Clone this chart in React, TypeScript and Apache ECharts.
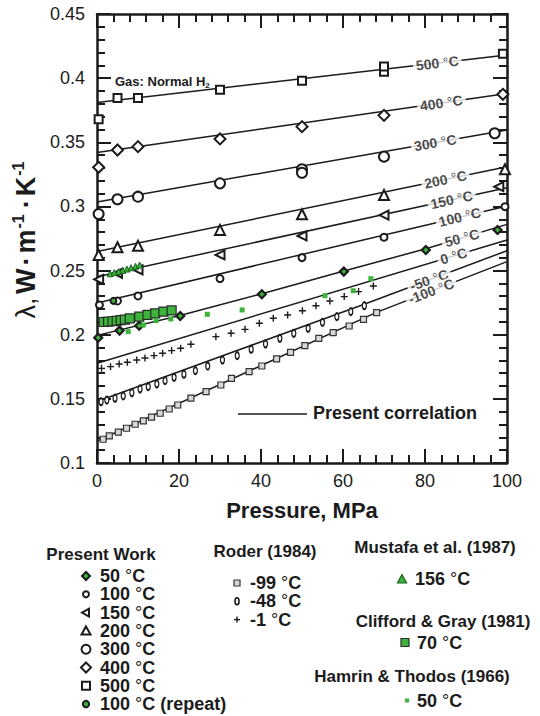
import React, { useEffect, useRef } from "react";
import * as echarts from "echarts";

const INK = "#1b1b1b";
const GREEN = "#3cb43c";
const FONT = "'Liberation Sans', Arial, Helvetica, sans-serif";

// ---------- Present work measurements (P in MPa, lambda in W/m/K)
const P_500C = [0.4, 5, 10, 30, 50, 70, 70, 99];
const L_500C = [0.368, 0.3845, 0.3845, 0.391, 0.398, 0.405, 0.409, 0.419];
const P_400C = [0.4, 5, 10, 30, 50, 70, 99];
const L_400C = [0.3305, 0.344, 0.3466, 0.3526, 0.3622, 0.371, 0.3874];
const P_300C = [0.4, 5, 10, 30, 50, 50, 70, 97];
const L_300C = [0.2941, 0.3056, 0.3076, 0.318, 0.329, 0.3263, 0.3388, 0.357];
const P_200C = [0.4, 5, 10, 30, 50, 70, 99.5];
const L_200C = [0.2622, 0.2682, 0.2694, 0.2817, 0.2939, 0.3089, 0.329];
const P_150C = [0.4, 5, 10, 30, 50, 70, 98];
const L_150C = [0.2432, 0.2479, 0.2505, 0.2622, 0.277, 0.2933, 0.3154];
const P_100C = [0.6, 5, 10, 30, 50, 70, 99.5];
const L_100C = [0.2232, 0.2263, 0.2302, 0.2438, 0.2601, 0.276, 0.2998];
const P_50C = [0.3, 5.5, 10.3, 20.3, 40.2, 60.2, 80.2, 97.7];
const L_50C = [0.1977, 0.2032, 0.207, 0.2146, 0.2315, 0.2492, 0.266, 0.2816];
const P_100R = [4.0];
const L_100R = [0.2264];

// ---------- Roder (1984)
const P_M99 = [1.5, 3.0, 5.2, 7.2, 9.3, 11.3, 13.3, 15.4, 17.6, 19.7, 22.9, 26.6, 30.2, 32.8, 37.1, 40.2, 43.8, 47.2, 50.7, 54.1, 57.6, 61.5, 65.0, 68.2];
const L_M99 = [0.1185, 0.1211, 0.124, 0.1271, 0.1302, 0.1328, 0.1357, 0.1388, 0.1421, 0.1452, 0.1505, 0.1556, 0.1608, 0.166, 0.1712, 0.1756, 0.1811, 0.1863, 0.1915, 0.1972, 0.2016, 0.2068, 0.212, 0.2172];
const P_M48 = [1.0, 2.4, 4.4, 6.4, 8.5, 10.5, 12.5, 14.6, 16.6, 18.8, 21.2, 24.0, 27.0, 30.6, 34.2, 37.6, 41.1, 44.6, 48.0, 51.5, 55.0, 58.5, 61.9, 65.2];
const L_M48 = [0.1478, 0.1491, 0.1505, 0.1523, 0.1548, 0.1577, 0.1595, 0.1616, 0.1642, 0.1668, 0.1692, 0.172, 0.1756, 0.1803, 0.1837, 0.1887, 0.1928, 0.1972, 0.2011, 0.205, 0.2097, 0.2141, 0.218, 0.2226];
const P_M1 = [1.1, 3.3, 5.4, 7.4, 9.7, 11.7, 13.9, 16.0, 18.2, 20.4, 22.9, 29.0, 32.7, 36.1, 39.6, 43.0, 46.5, 50.1, 53.4, 56.8, 60.3, 63.8, 67.4];
const L_M1 = [0.1738, 0.1751, 0.1772, 0.1785, 0.1803, 0.1819, 0.1837, 0.1855, 0.1876, 0.1894, 0.1926, 0.1985, 0.2011, 0.2042, 0.2089, 0.2128, 0.2154, 0.2187, 0.2226, 0.2263, 0.2297, 0.2336, 0.238];

// ---------- Other sources
const P_MUSTAFA = [3.2, 4.2, 5.3, 6.3, 7.3, 8.3, 9.4, 10.4];
const L_MUSTAFA = [0.2475, 0.2484, 0.2492, 0.2502, 0.2512, 0.2522, 0.2533, 0.2543];
const P_CLIFFORD = [1.6, 2.7, 3.8, 4.8, 5.8, 6.8, 8.0, 10.3, 12.3, 14.2, 16.2, 18.2];
const L_CLIFFORD = [0.2099, 0.2102, 0.2105, 0.2108, 0.2113, 0.2118, 0.2128, 0.2141, 0.2154, 0.2167, 0.218, 0.2189];
const P_HAMRIN = [7.6, 11.3, 14.4, 18.0, 26.9, 35.4, 55.6, 62.5, 66.8];
const L_HAMRIN = [0.2024, 0.2076, 0.211, 0.2123, 0.2159, 0.2193, 0.2304, 0.2343, 0.2437];

// ---------- Present correlation (isotherms)
const ISO_NAMES = ["500", "400", "300", "200", "150", "100", "50", "0", "-50", "-100"];
const CORR_P = [
  [0, 100], [0, 100], [0, 100], [0, 100], [0, 100], [0, 100],
  [0, 20, 40, 60, 80, 100], [0, 100], [0, 65, 100], [0, 68, 100],
];
const CORR_L = [
  [0.381, 0.418], [0.342, 0.388], [0.3035, 0.3595], [0.2648, 0.331], [0.2452, 0.3146],
  [0.2247, 0.3004], [0.1995, 0.2148, 0.2318, 0.2495, 0.2668, 0.286], [0.1777, 0.2739],
  [0.148, 0.2235, 0.2655], [0.117, 0.2172, 0.257],
];
const LABEL_P = [83, 84, 82.5, 85, 86.5, 88.5, 89, 87, 81, 81.5];
const LABEL_ROT = [6.6, 8.2, 9.9, 11.7, 12.2, 13.3, 15, 16.7, 19.5, 21];

const interp = (ps: number[], ls: number[], p: number) => {
  for (let i = 0; i < ps.length - 1; i++) {
    if (p >= ps[i] && p <= ps[i + 1]) {
      const t = (p - ps[i]) / (ps[i + 1] - ps[i]);
      return ls[i] + t * (ls[i + 1] - ls[i]);
    }
  }
  return ls[ls.length - 1];
};

const pts = (ps: number[], ls: number[]) => ps.map((p, i) => [p, ls[i]]);

const PLUS = "path://M2,0h1v2h2v1h-2v2h-1v-2h-2v-1h2z";

function scatter(name: string, ps: number[], ls: number[], symbol: string, size: any, fill: string, stroke: string, bw: number, rotate = 0, z = 4) {
  return {
    name,
    type: "scatter",
    data: pts(ps, ls),
    symbol,
    symbolSize: size,
    symbolRotate: rotate,
    z,
    itemStyle: { color: fill, borderColor: stroke, borderWidth: bw, opacity: 1 },
    emphasis: { disabled: true },
  };
}

const degRich = (size: number, colorKey: "color" | "fill", lh?: number) => ({
  b: { fontSize: size, fontWeight: "bold", fontFamily: FONT, [colorKey]: INK, ...(lh ? { lineHeight: lh } : {}) },
  d: { fontSize: size, fontWeight: "normal", fontFamily: FONT, [colorKey]: INK, ...(lh ? { lineHeight: lh } : {}) },
});

const degText = (t: string, extra = "") => `{b|${t} }{d|°}{b|C${extra}}`;

function buildOption() {
  const series: any[] = [];

  ISO_NAMES.forEach((n, i) => {
    series.push({
      name: `corr${n}`,
      type: "line",
      data: pts(CORR_P[i], CORR_L[i]),
      showSymbol: false,
      symbol: "none",
      lineStyle: { color: INK, width: 1.5 },
      z: 2,
      emphasis: { disabled: true },
    });
  });

  series.push(
    scatter("500", P_500C, L_500C, "rect", 8, "#fff", INK, 2),
    scatter("400", P_400C, L_400C, "diamond", 11, "#fff", INK, 2),
    scatter("300", P_300C, L_300C, "circle", 10, "#fff", INK, 2),
    scatter("200", P_200C, L_200C, "triangle", 10, "#fff", INK, 2),
    scatter("150", P_150C, L_150C, "triangle", 9, "#fff", INK, 2, 90),
    scatter("100", P_100C, L_100C, "circle", 7, "#fff", INK, 2),
    scatter("50", P_50C, L_50C, "diamond", 8, GREEN, INK, 2.2),
    scatter("100r", P_100R, L_100R, "circle", 6, GREEN, INK, 2),
    scatter("m99", P_M99, L_M99, "rect", 6, "#d8d8d8", "#333", 1.2),
    scatter("m48", P_M48, L_M48, "circle", [4, 7], "#fff", INK, 1.6),
    scatter("m1", P_M1, L_M1, PLUS, 7, INK, INK, 0),
    scatter("mustafa", P_MUSTAFA, L_MUSTAFA, "triangle", 6, GREEN, "#1d5e1d", 1, 0, 5),
    scatter("clifford", P_CLIFFORD, L_CLIFFORD, "rect", 9, GREEN, "#2a2a2a", 1.2, 0, 5),
    scatter("hamrin", P_HAMRIN, L_HAMRIN, "rect", 5, GREEN, GREEN, 0, 0, 5),
  );

  ISO_NAMES.forEach((n, i) => {
    const p = LABEL_P[i];
    series.push({
      name: `lab${n}`,
      type: "scatter",
      data: [[p, interp(CORR_P[i], CORR_L[i], p)]],
      symbolSize: 1,
      itemStyle: { color: "rgba(0,0,0,0)" },
      z: 8,
      silent: true,
      label: {
        show: true,
        position: "inside",
        formatter: degText(n),
        rotate: LABEL_ROT[i],
        backgroundColor: "#fff",
        padding: [0, 3],
        rich: degRich(14, "color", 13),
      },
    });
  });

  const tickStyle = { color: INK, width: 2 };
  const axisCommon = {
    axisLine: { show: true, onZero: false, lineStyle: { color: INK, width: 2.5 } },
    axisTick: { show: true, inside: true, length: 14, lineStyle: tickStyle },
    minorTick: { show: true, splitNumber: 5, length: 8, lineStyle: tickStyle },
    splitLine: { show: false },
    minorSplitLine: { show: false },
  };

  const legendGraphics: any[] = [];
  const txt = (x: number, y: number, text: string, size: number, align = "left") => ({
    type: "text",
    x,
    y,
    silent: true,
    style: { text, rich: degRich(size, "fill"), align, verticalAlign: "middle" },
  });
  const heading = (x: number, y: number, text: string) => ({
    type: "text",
    x,
    y,
    silent: true,
    style: { text, fill: INK, font: `bold 17px ${FONT}`, align: "center", verticalAlign: "middle" },
  });
  const stroke = { stroke: INK, lineWidth: 2 };

  // Column 1: Present Work
  const c1x = 86, tx1 = 100;
  const r1 = [576, 594.3, 612.6, 630.9, 649.2, 667.5, 685.8, 704.1];
  legendGraphics.push(heading(101, 554, "Present Work"));
  legendGraphics.push({ type: "polygon", shape: { points: [[c1x, r1[0] - 4], [c1x + 4, r1[0]], [c1x, r1[0] + 4], [c1x - 4, r1[0]]] }, style: { fill: GREEN, ...stroke } });
  legendGraphics.push({ type: "circle", shape: { cx: c1x, cy: r1[1], r: 3 }, style: { fill: "#fff", ...stroke } });
  legendGraphics.push({ type: "polygon", shape: { points: [[c1x - 4, r1[2]], [c1x + 3, r1[2] - 4], [c1x + 3, r1[2] + 4]] }, style: { fill: "#fff", ...stroke } });
  legendGraphics.push({ type: "polygon", shape: { points: [[c1x, r1[3] - 4.5], [c1x + 4.5, r1[3] + 3.5], [c1x - 4.5, r1[3] + 3.5]] }, style: { fill: "#fff", ...stroke } });
  legendGraphics.push({ type: "circle", shape: { cx: c1x, cy: r1[4], r: 4.5 }, style: { fill: "#fff", ...stroke } });
  legendGraphics.push({ type: "polygon", shape: { points: [[c1x, r1[5] - 5], [c1x + 5, r1[5]], [c1x, r1[5] + 5], [c1x - 5, r1[5]]] }, style: { fill: "#fff", ...stroke } });
  legendGraphics.push({ type: "rect", shape: { x: c1x - 4, y: r1[6] - 4, width: 8, height: 8 }, style: { fill: "#fff", ...stroke } });
  legendGraphics.push({ type: "circle", shape: { cx: c1x, cy: r1[7], r: 3.2 }, style: { fill: GREEN, ...stroke } });
  ["50", "100", "150", "200", "300", "400", "500"].forEach((t, i) => legendGraphics.push(txt(tx1, r1[i], degText(t), 18)));
  legendGraphics.push(txt(tx1, r1[7], degText("100", " (repeat)"), 18));

  // Column 2: Roder
  const c2x = 237, tx2 = 250;
  const r2 = [583, 601.3, 619.6];
  legendGraphics.push(heading(265, 551, "Roder (1984)"));
  legendGraphics.push({ type: "rect", shape: { x: c2x - 3, y: r2[0] - 3, width: 6, height: 6 }, style: { fill: "#d8d8d8", stroke: "#333", lineWidth: 1.2 } });
  legendGraphics.push({ type: "ellipse", shape: { cx: c2x, cy: r2[1], rx: 2, ry: 3.5 }, style: { fill: "#fff", stroke: INK, lineWidth: 1.6 } });
  legendGraphics.push({ type: "line", shape: { x1: c2x - 3, y1: r2[2], x2: c2x + 3, y2: r2[2] }, style: { stroke: INK, lineWidth: 1.4 } });
  legendGraphics.push({ type: "line", shape: { x1: c2x, y1: r2[2] - 3, x2: c2x, y2: r2[2] + 3 }, style: { stroke: INK, lineWidth: 1.4 } });
  ["-99", "-48", "-1"].forEach((t, i) => legendGraphics.push(txt(tx2, r2[i], degText(t), 18)));

  // Column 3
  legendGraphics.push(heading(435, 547, "Mustafa et al. (1987)"));
  legendGraphics.push({ type: "polygon", shape: { points: [[402, 574.5], [406.5, 583], [397.5, 583]] }, style: { fill: GREEN, stroke: "#1d5e1d", lineWidth: 1.2 } });
  legendGraphics.push(txt(415, 579, degText("156"), 18));
  legendGraphics.push(heading(443, 621, "Clifford & Gray (1981)"));
  legendGraphics.push({ type: "rect", shape: { x: 401, y: 638.5, width: 8, height: 8 }, style: { fill: GREEN, stroke: "#2a2a2a", lineWidth: 1.2 } });
  legendGraphics.push(txt(417, 642.7, degText("70"), 18));
  legendGraphics.push(heading(412, 676, "Hamrin & Thodos (1966)"));
  legendGraphics.push({ type: "rect", shape: { x: 405, y: 698.5, width: 4, height: 4 }, style: { fill: GREEN } });
  legendGraphics.push(txt(417, 700.7, degText("50"), 18));

  // In-plot annotations
  legendGraphics.push({
    type: "text",
    x: 115,
    y: 81,
    silent: true,
    z: 10,
    style: {
      text: "{a|Gas: Normal H}{s|2}",
      verticalAlign: "middle",
      rich: {
        a: { fontSize: 13, fontWeight: "bold", fontFamily: FONT, fill: INK },
        s: { fontSize: 8, fontWeight: "bold", fontFamily: FONT, fill: INK, padding: [9, 0, 0, 0] },
      },
    },
  });
  legendGraphics.push({ type: "line", z: 10, shape: { x1: 238, y1: 414, x2: 307, y2: 414 }, style: { stroke: INK, lineWidth: 1.5 } });
  legendGraphics.push({
    type: "text",
    x: 313,
    y: 413,
    z: 10,
    silent: true,
    style: { text: "Present correlation", fill: INK, font: `bold 18px ${FONT}`, verticalAlign: "middle" },
  });

  return {
    animation: false,
    backgroundColor: "#fff",
    grid: { left: 97, right: 33, top: 14, bottom: 253 },
    xAxis: [
      {
        type: "value",
        min: 0,
        max: 100,
        interval: 20,
        position: "bottom",
        ...axisCommon,
        axisLabel: { fontSize: 18, color: INK, fontFamily: FONT, margin: 9 },
        name: "Pressure, MPa",
        nameLocation: "middle",
        nameGap: 36,
        nameTextStyle: { fontSize: 22, fontWeight: "bold", color: INK, fontFamily: FONT },
      },
      {
        type: "value",
        min: 0,
        max: 100,
        interval: 20,
        position: "top",
        ...axisCommon,
        axisLabel: { show: false },
      },
    ],
    yAxis: [
      {
        type: "value",
        min: 0.1,
        max: 0.45,
        interval: 0.05,
        position: "left",
        ...axisCommon,
        axisLabel: { fontSize: 18, color: INK, fontFamily: FONT, margin: 12 },
        name: "{l|λ,} {b|W}{t|·}{b|m}{s|-1}{t|·}{b|K}{s|-1}",
        nameLocation: "middle",
        nameRotate: 90,
        nameGap: 46,
        nameTextStyle: {
          color: INK,
          fontFamily: FONT,
          rich: {
            l: { fontSize: 27, fontWeight: "normal", fontFamily: FONT, color: INK },
            b: { fontSize: 27, fontWeight: "bold", fontFamily: FONT, color: INK },
            t: { fontSize: 27, fontWeight: "bold", fontFamily: FONT, color: INK, padding: [0, 3] },
            s: { fontSize: 16, fontWeight: "bold", fontFamily: FONT, color: INK, padding: [0, 3, 14, 1] },
          },
        },
      },
      {
        type: "value",
        min: 0.1,
        max: 0.45,
        interval: 0.05,
        position: "right",
        ...axisCommon,
        axisLabel: { show: false },
      },
    ],
    series,
    graphic: legendGraphics,
  };
}

export default function App() {
  const ref = useRef<HTMLDivElement>(null);
  useEffect(() => {
    if (!ref.current) return;
    const chart = echarts.init(ref.current, null, { renderer: "svg" });
    chart.setOption(buildOption() as any);
    return () => chart.dispose();
  }, []);
  return (
    <div
      ref={ref}
      style={{ position: "fixed", left: 0, top: 0, width: 540, height: 716, background: "#fff" }}
    />
  );
}
